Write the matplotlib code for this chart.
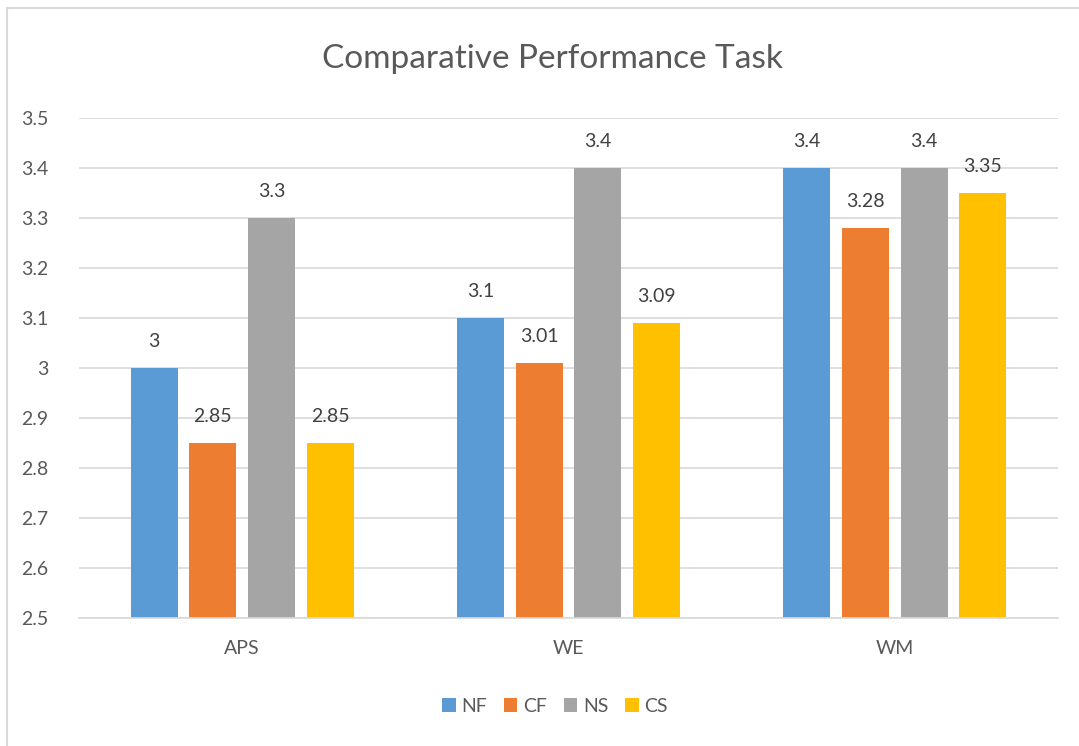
#!/usr/bin/env python
import matplotlib
matplotlib.use('Agg')
import matplotlib.pyplot as plt
from matplotlib.lines import Line2D
from matplotlib.patches import Patch

categories = ['APS', 'WE', 'WM']
series_names = ['NF', 'CF', 'NS', 'CS']
nf = [3.0, 3.1, 3.4]
cf = [2.85, 3.01, 3.28]
ns = [3.3, 3.4, 3.4]
cs = [2.85, 3.09, 3.35]
label_text = [['3', '3.1', '3.4'],
              ['2.85', '3.01', '3.28'],
              ['3.3', '3.4', '3.4'],
              ['2.85', '3.09', '3.35']]
yticks = [2.5, 2.6, 2.7, 2.8, 2.9, 3.0, 3.1, 3.2, 3.3, 3.4, 3.5]
ytick_labels = ['2.5', '2.6', '2.7', '2.8', '2.9', '3', '3.1', '3.2', '3.3', '3.4', '3.5']

colors = ['#5B9BD5', '#ED7D31', '#A5A5A5', '#FFC000']
text_color = '#595959'
grid_color = '#D9D9D9'


def main():
    plt.rcParams['font.family'] = ['Lato', 'DejaVu Sans']
    fig = plt.figure(figsize=(10.79, 7.46), dpi=100)
    ax = fig.add_axes([79 / 1079, 128 / 746, 979 / 1079, 500 / 746])

    values = [nf, cf, ns, cs]
    step = 0.18
    width = 0.144
    for j, vals in enumerate(values):
        xs = [i + (j - 1.5) * step for i in range(len(categories))]
        heights = [v - 2.5 for v in vals]
        ax.bar(xs, heights, width=width, bottom=2.5, color=colors[j],
               zorder=3, label=series_names[j])
        for x, v, t in zip(xs, vals, label_text[j]):
            ax.annotate(t, (x, v), xytext=(0, 13), textcoords='offset points',
                        ha='center', va='bottom', fontsize=14, color='#404040')

    ax.set_ylim(2.5, 3.5)
    ax.set_xlim(-0.5, 2.5)
    ax.set_yticks(yticks)
    ax.set_yticklabels(ytick_labels)
    ax.set_xticks(range(len(categories)))
    ax.set_xticklabels(categories)
    ax.tick_params(axis='both', length=0, labelsize=14, labelcolor=text_color)
    ax.tick_params(axis='x', pad=16)
    ax.tick_params(axis='y', pad=22)
    for s in ['top', 'right', 'left']:
        ax.spines[s].set_visible(False)
    ax.spines['bottom'].set_color(grid_color)
    ax.spines['bottom'].set_linewidth(1.2)
    ax.spines['bottom'].set_zorder(4)
    ax.yaxis.grid(True, color=grid_color, linewidth=1.2, zorder=0)

    fig.text(552 / 1079, 1 - 59 / 746, 'Comparative Performance Task',
             ha='center', va='center', fontsize=24, color=text_color)

    handles = [Patch(facecolor=c) for c in colors]
    fig.legend(handles, series_names, loc='center', ncol=4,
               bbox_to_anchor=(555 / 1079, 1 - 706 / 746), frameon=False,
               fontsize=14, labelcolor=text_color, handlelength=0.7,
               handleheight=0.7, handletextpad=0.3, columnspacing=0.85)

    # chart area border (clipped by the image edges)
    fig.add_artist(Line2D([7 / 1079, 7 / 1079], [0, 1 - 8 / 746],
                          color=grid_color, linewidth=1.5))
    fig.add_artist(Line2D([7 / 1079, 1], [1 - 8 / 746, 1 - 8 / 746],
                          color=grid_color, linewidth=1.5))

    fig.savefig('out.png', dpi=100)


if __name__ == '__main__':
    main()
